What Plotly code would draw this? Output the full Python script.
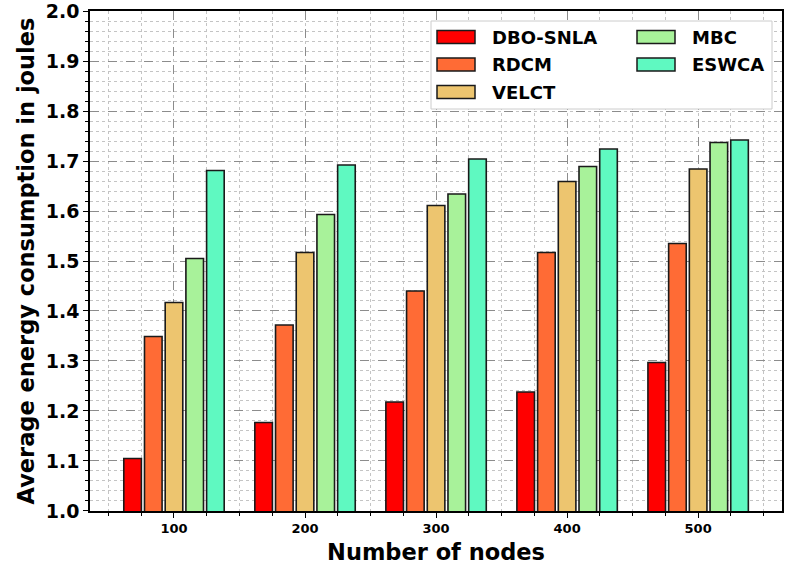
import plotly.graph_objects as go

# Node counts (x categories) and average energy consumption per method
nodes = ["100", "200", "300", "400", "500"]
dbo_snla = [1.105, 1.177, 1.218, 1.238, 1.297]
rdcm = [1.349, 1.372, 1.440, 1.517, 1.535]
velct = [1.417, 1.517, 1.611, 1.659, 1.684]
mbc = [1.505, 1.593, 1.634, 1.689, 1.737]
eswca = [1.681, 1.692, 1.704, 1.724, 1.742]
y_ticks = [1.0, 1.1, 1.2, 1.3, 1.4, 1.5, 1.6, 1.7, 1.8, 1.9, 2.0]

series = [
    ("DBO-SNLA", dbo_snla, "#FF0000"),
    ("RDCM", rdcm, "#FF6B35"),
    ("VELCT", velct, "#EDC56F"),
    ("MBC", mbc, "#A8F29A"),
    ("ESWCA", eswca, "#5FF9C1"),
]

FONT = "DejaVu Sans"
xpos = list(range(len(nodes)))

fig = go.Figure()
for name, vals, color in series:
    fig.add_trace(go.Bar(
        x=xpos, y=vals, name=name,
        marker=dict(color=color, line=dict(color="#1a1a1a", width=1.6)),
        showlegend=False,
    ))

fig.update_layout(
    width=787, height=572,
    margin=dict(l=90, r=5, t=11, b=61, autoexpand=False),
    paper_bgcolor="white", plot_bgcolor="white",
    barmode="group", bargap=0.21, bargroupgap=0.15,
    font=dict(family=FONT, color="black"),
)

fig.update_xaxes(
    range=[-0.641, 4.64], automargin=False,
    tickmode="array", tickvals=xpos, ticktext=nodes,
    tickfont=dict(family=FONT, size=13, weight="bold"),
    ticks="outside", ticklen=5, tickwidth=1.2, tickcolor="black",
    showline=True, linecolor="black", linewidth=1.5, mirror=True,
    showgrid=True, gridcolor="#8c8c8c", griddash="dash", gridwidth=1,
    zeroline=False,
    minor=dict(dtick=0.25, tick0=0, ticks="outside", ticklen=3,
               tickcolor="black", showgrid=True, gridcolor="#c4c4c4",
               griddash="dot", gridwidth=1),
    title=dict(text="Number of nodes", font=dict(family=FONT, size=22.5, weight="bold"),
               standoff=9),
)

fig.update_yaxes(
    range=[0.9999, 2.0001], automargin=False,
    tickmode="array", tickvals=y_ticks, ticktext=[f"{v:.1f}" for v in y_ticks],
    tickfont=dict(family=FONT, size=19, weight="bold"),
    ticklabeloverflow="allow",
    ticks="outside", ticklen=5, tickwidth=1.2, tickcolor="black",
    showline=True, linecolor="black", linewidth=1.5, mirror=True,
    showgrid=True, gridcolor="#8c8c8c", griddash="dash", gridwidth=1,
    zeroline=False,
    minor=dict(dtick=0.02, tick0=1.0, ticks="outside", ticklen=3, tickcolor="black",
               showgrid=True, gridcolor="#c4c4c4", griddash="dot", gridwidth=1),
    title=dict(text="Average energy consumption in joules",
               font=dict(family=FONT, size=22.5, weight="bold"), standoff=5),
)

# Legend box drawn in paper coordinates (two columns, wide swatches)
W, H = 787, 572
L, R, T, B = 90, 5, 11, 61
pw, ph = W - L - R, H - T - B


def px(x):
    return (x - L) / pw


def py(y):
    return (H - B - y) / ph


fig.add_shape(type="rect", xref="paper", yref="paper",
              x0=px(431), x1=px(772), y0=py(109), y1=py(21),
              line=dict(color="#cccccc", width=1), fillcolor="white", layer="above")

legend_slots = [(437, 37), (437, 64.5), (437, 92), (637, 37), (637, 64.5)]
for (name, _, color), (sx, cy) in zip(series, legend_slots):
    fig.add_shape(type="rect", xref="paper", yref="paper",
                  x0=px(sx), x1=px(sx + 38), y0=py(cy + 6.5), y1=py(cy - 6.5),
                  line=dict(color="#1a1a1a", width=1.5), fillcolor=color, layer="above")
    fig.add_annotation(xref="paper", yref="paper", x=px(sx + 53), y=py(cy),
                       text=name, showarrow=False, xanchor="left", yanchor="middle",
                       font=dict(family=FONT, size=18, weight="bold", color="black"))

fig.write_html("out.html")
